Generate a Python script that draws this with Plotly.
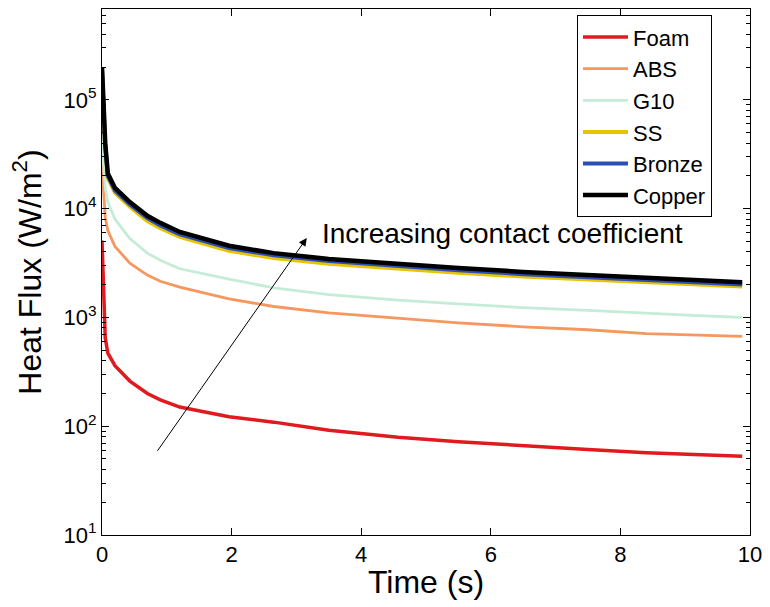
import plotly.graph_objects as go

time_s = [0, 0.05, 0.09, 0.2, 0.43, 0.7, 0.9, 1.2, 1.96, 2.65, 3.5, 4.57, 5.5, 6.5, 7.5, 8.4, 9.2, 9.88]

foam = [5100, 650, 470, 360, 260, 200, 175, 150, 122, 109, 92, 79, 72, 66, 61, 57, 55, 53]
abs_ = [25000, 8300, 6300, 4500, 3150, 2450, 2150, 1900, 1480, 1260, 1100, 980, 890, 820, 770, 710, 690, 670]
g10 = [45000, 15500, 11500, 8000, 5300, 3900, 3350, 2800, 2250, 1870, 1620, 1440, 1330, 1230, 1160, 1090, 1040, 1000]
ss = [180000, 36000, 19000, 14000, 10400, 7700, 6600, 5500, 4100, 3520, 3120, 2800, 2580, 2380, 2220, 2090, 1990, 1920]
bronze = [190000, 38000, 20000, 14700, 10900, 8200, 7000, 5800, 4350, 3720, 3300, 2960, 2720, 2500, 2340, 2200, 2090, 2010]
copper = [200000, 40000, 21000, 15500, 11500, 8600, 7400, 6100, 4560, 3900, 3450, 3100, 2850, 2620, 2440, 2300, 2180, 2100]

series_names = ["Foam", "ABS", "G10", "SS", "Bronze", "Copper"]
series_vals = [foam, abs_, g10, ss, bronze, copper]
series_colors = ["#e01a1f", "#f5975e", "#c4ecd6", "#e6c400", "#2d4fb5", "#000000"]
series_widths = [3.5, 2.8, 2.8, 4, 4, 4.5]

y_tick_vals = [10, 100, 1000, 10000, 100000]
y_tick_text = ["10<sup>1</sup>", "10<sup>2</sup>", "10<sup>3</sup>", "10<sup>4</sup>", "10<sup>5</sup>"]
y_minor_vals = [m * d for d in [10, 100, 1000, 10000, 100000] for m in range(2, 10)]

FONT = "Liberation Sans, Arial, Helvetica, sans-serif"

fig = go.Figure()
for name, vals, col, w in zip(series_names, series_vals, series_colors, series_widths):
    fig.add_trace(go.Scatter(x=time_s, y=vals, name=name, mode="lines",
                             line=dict(color=col, width=w)))

fig.add_annotation(x=3.16, y=3.73, ax=0.84, ay=1.76, xref="x", yref="y",
                   axref="x", ayref="y", text="", showarrow=True,
                   arrowhead=2, arrowsize=1.6, arrowwidth=1, arrowcolor="#000")
fig.add_annotation(x=3.37, y=3.77, xref="x", yref="y", text="Increasing contact coefficient",
                   showarrow=False, xanchor="left", yanchor="middle",
                   font=dict(family=FONT, size=28, color="#000"))

axis_common = dict(showline=True, linecolor="#000", linewidth=1, mirror="ticks",
                   ticks="inside", tickcolor="#000", ticklen=7, showgrid=False,
                   zeroline=False, tickfont=dict(family=FONT, size=22, color="#000"))

fig.update_xaxes(range=[0, 10], dtick=2, tick0=0,
                 title=dict(text="Time (s)", font=dict(family=FONT, size=32, color="#000"), standoff=4),
                 **axis_common)
fig.update_yaxes(type="log", range=[1, 5.835], tickmode="array",
                 tickvals=y_tick_vals, ticktext=y_tick_text,
                 minor=dict(ticks="inside", ticklen=4, tickcolor="#000", tickmode="array",
                            tickvals=y_minor_vals, showgrid=False),
                 title=dict(text="Heat Flux (W/m<sup>2</sup>)", font=dict(family=FONT, size=32, color="#000"), standoff=12),
                 **axis_common)

fig.update_layout(width=770, height=607, margin=dict(l=102, r=16, t=8, b=72),
                  paper_bgcolor="white", plot_bgcolor="white",
                  font=dict(family=FONT, color="#000"),
                  legend=dict(x=0.733, y=0.988, xanchor="left", yanchor="top",
                              bgcolor="white", bordercolor="#000", borderwidth=1,
                              font=dict(family=FONT, size=22), tracegroupgap=0,
                              itemwidth=45),
                  showlegend=True)

fig.write_html("out.html")
